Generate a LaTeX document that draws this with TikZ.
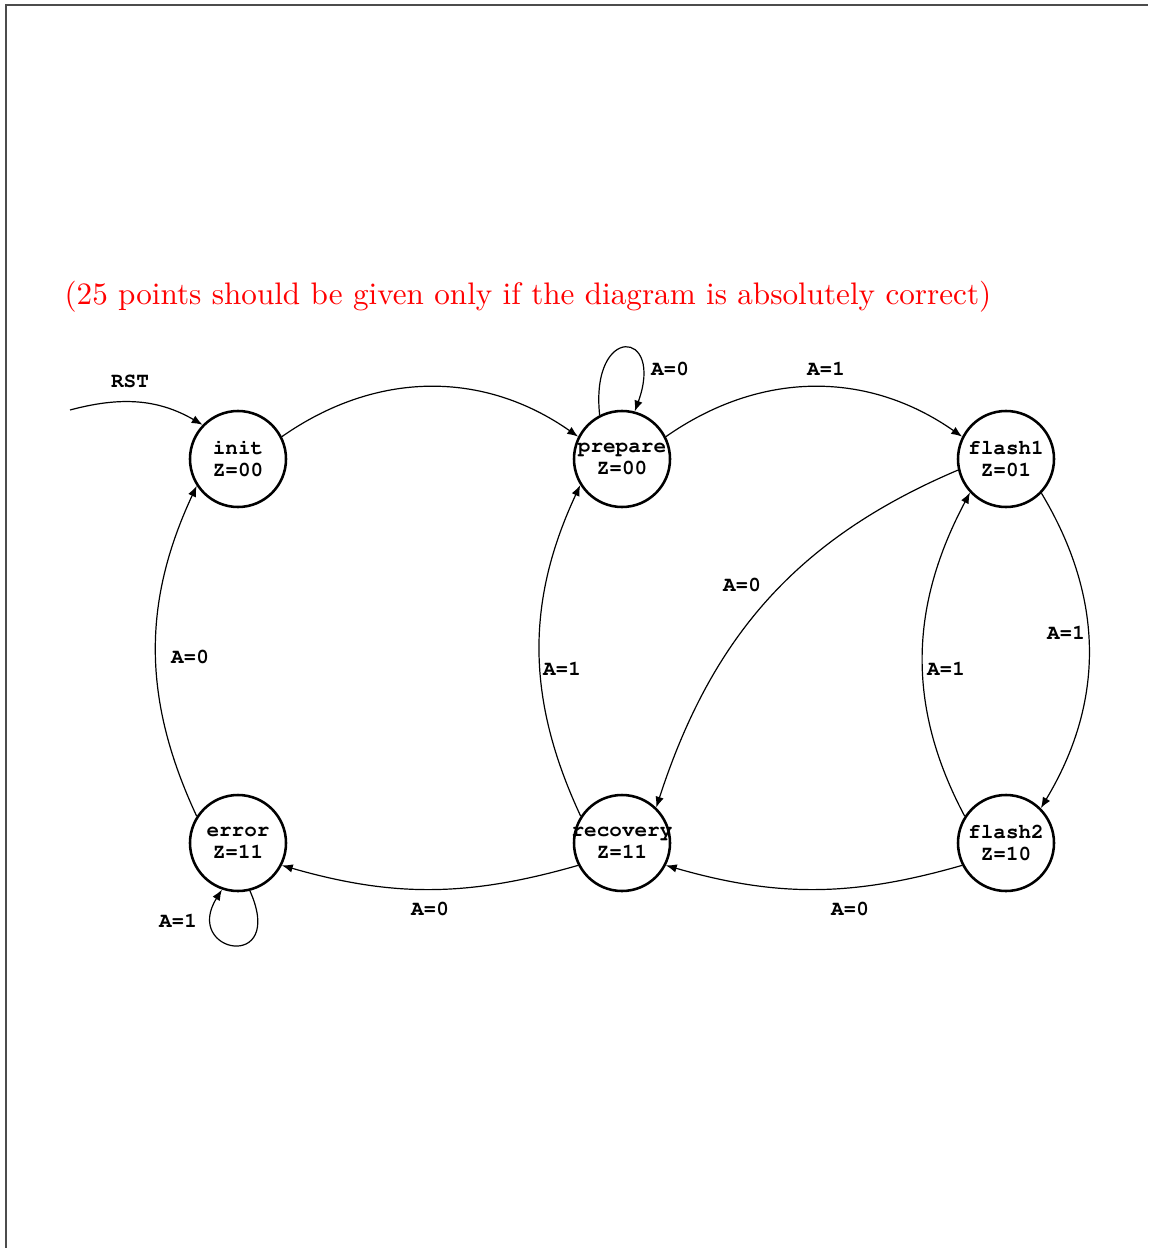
\documentclass[tikz,border=0pt]{standalone}
\usepackage[T1]{fontenc}
\usepackage{fontspec}
\newcommand\monob{\fontencoding{T1}\fontfamily{pcr}\fontseries{b}\fontshape{n}}
\usetikzlibrary{arrows.meta}
\begin{document}
\begin{tikzpicture}[x=0.3333pt,y=0.3333pt,
  state/.style={circle,draw,line width=0.85pt,minimum size=32pt,inner sep=0pt},
  stxt/.style={font=\monob\fontsize{7}{7.4}\selectfont,align=center,inner sep=0pt},
  lbl/.style={font=\monob\fontsize{7}{8}\selectfont,inner sep=0pt},
  edge/.style={line width=0.4pt,-{Latex[length=3.6pt,width=2.8pt]}}]
\useasboundingbox (0,0) rectangle (1148,-1248);
\draw[black!70,line width=0.6pt] (6,-1248) -- (6,-5) -- (1148,-5);
\node[text=red,anchor=base west,inner sep=0pt,font=\fontsize{10.38}{12}\selectfont] (note) at (64,-305)
  {(25 points should be given only if the diagram is absolutely correct)};
% states
\node[state,label={[stxt,name=init-t]center:{init\\Z=00}}] (init) at (238,-459) {};
\node[state,label={[stxt,name=prepare-t]center:{prepare\\Z=00}}] (prepare) at (622,-459) {};
\node[state,label={[stxt,name=flash1-t]center:{flash1\\Z=01}}] (flash1) at (1006,-459) {};
\node[state,label={[stxt,name=error-t]center:{error\\Z=11}}] (error) at (238,-843) {};
\node[state,label={[stxt,name=recovery-t]center:{recovery\\Z=11}}] (recovery) at (622,-843) {};
\node[state,label={[stxt,name=flash2-t]center:{flash2\\Z=10}}] (flash2) at (1006,-843) {};
% reset
\coordinate (rst) at (70,-410);
\draw[edge] (rst) to[out=15,in=150] (init.136);
\node[lbl] (rstl) at (130,-381) {RST};
% transitions
\draw[edge] (init.27) to[out=35,in=145] (prepare.153);
\draw[edge] (prepare.117) .. controls +(96:92) and +(70:88) .. (prepare.75);
\node[lbl] (l1) at (670,-369) {A=0};
\draw[edge] (prepare.27) to[out=35,in=145] (flash1.153);
\node[lbl] (l2) at (826,-369) {A=1};
\draw[edge] (flash1.193) to[out=203,in=72] (recovery.46);
\node[lbl] (l3) at (742,-585) {A=0};
\draw[edge] (flash1.-44) to[out=-59,in=59] (flash2.45);
\node[lbl] (l4) at (1066,-633) {A=1};
\draw[edge] (flash2.147) to[out=118,in=242] (flash1.223);
\node[lbl] (l5) at (946,-669) {A=1};
\draw[edge] (flash2.207) to[out=196,in=344] (recovery.333);
\node[lbl] (l6) at (850,-909) {A=0};
\draw[edge] (recovery.147) to[out=115,in=245] (prepare.212);
\node[lbl] (l7) at (562,-669) {A=1};
\draw[edge] (recovery.207) to[out=196,in=344] (error.333);
\node[lbl] (l8) at (430,-909) {A=0};
\draw[edge] (error.147) to[out=115,in=245] (init.213);
\node[lbl] (l9) at (190,-657) {A=0};
\draw[edge] (error.-76) .. controls +(-66:90) and +(-122:75) .. (error.-109);
\node[lbl] (l10) at (178,-921) {A=1};
\end{tikzpicture}
\end{document}
